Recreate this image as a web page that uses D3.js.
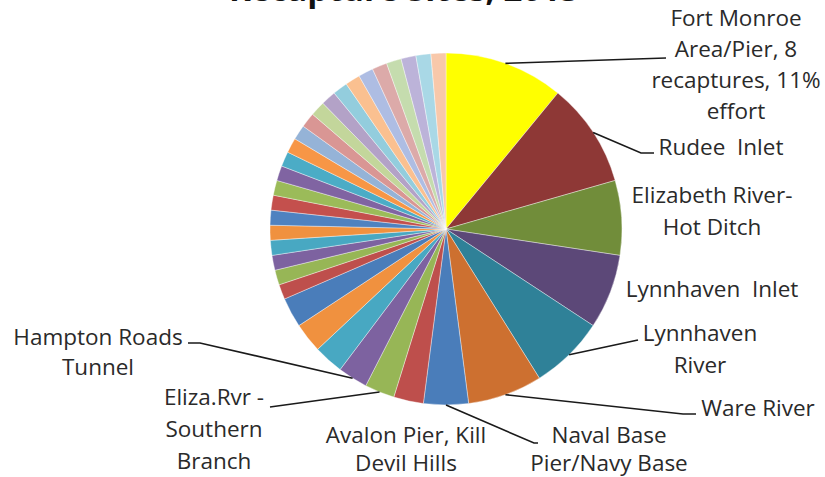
<!DOCTYPE html>
<html><head><meta charset="utf-8">
<script src="https://cdn.jsdelivr.net/npm/d3@7"></script>
<style>body{margin:0;background:#fff}svg{display:block}</style>
</head><body>
<svg id="c" width="825" height="477"></svg>
<script>
// ---- data ----
const title = "Recapture Sites, 2013";
const sites = [
  "Fort Monroe Area/Pier, 8 recaptures, 11% effort", "Rudee  Inlet", "Elizabeth River-Hot Ditch",
  "Lynnhaven  Inlet", "Lynnhaven River", "Ware River", "Naval Base Pier/Navy Base",
  "Avalon Pier, Kill Devil Hills", "Eliza.Rvr - Southern Branch", "Hampton Roads Tunnel",
  "Site 11","Site 12","Site 13","Site 14","Site 15","Site 16","Site 17","Site 18","Site 19",
  "Site 20","Site 21","Site 22","Site 23","Site 24","Site 25","Site 26","Site 27","Site 28",
  "Site 29","Site 30","Site 31","Site 32"
];
const recaptures = [8,7,5,5,5,5,3, 2,2,2,2,2,2, 1,1,1,1,1,1,1,1,1,1,1,1,1,1,1,1,1,1,1,1,1,1,1];
const sliceColors = [
  "#ffff00","#8e3836","#718d3a","#5c4878","#2f8198","#cd7030","#4a7dba",
  "#be4f4c","#97b656","#7d62a0","#48a8c2","#f0913f","#4a7dba",
  "#be4f4c","#97b656","#7d62a0","#48a8c2","#f0913f","#4f82c0",
  "#c4504d","#9bbb59","#8064a2","#4bacc6","#f79646",
  "#95b3d7","#d99694","#c3d69b","#b3a2c7","#93cddd","#fac090",
  "#aebde3","#dcaaa9","#c5dcae","#bcb3d9","#a9d8e6","#f8c8aa","#c8d6ee","#e8c8cc"
];
const labelLines = {
  0: ["Fort Monroe","Area/Pier, 8","recaptures, 11%","effort"],
  1: ["Rudee  Inlet"],
  2: ["Elizabeth River-","Hot Ditch"],
  3: ["Lynnhaven  Inlet"],
  4: ["Lynnhaven","River"],
  5: ["Ware River"],
  6: ["Naval Base","Pier/Navy Base"],
  7: ["Avalon Pier, Kill","Devil Hills"],
  8: ["Eliza.Rvr -","Southern","Branch"],
  9: ["Hampton Roads","Tunnel"]
};
// ---- layout (positions, not data) ----
const cx = 446, cy = 229, R = 176;
const labelPos = {           // x = centre of text block, y = first baseline, h = line step
  0:{x:736,y:26,h:31, leader:[[666,58]]},
  1:{x:721,y:155, leader:[[641,153],[654,153]]},
  2:{x:712,y:203,h:32},
  3:{x:712,y:297},
  4:{x:700,y:341,h:32, leader:[[638,340]]},
  5:{x:758,y:416, leader:[[683,414],[696,414]]},
  6:{x:609,y:443,h:28, leader:[[534,443],[538,443]]},
  7:{x:406,y:443,h:28},
  8:{x:214,y:405,h:32, leader:[[270,407]]},
  9:{x:98,y:345,h:30, leader:[[200,343],[188,343]]}
};
const fontFam = "'Open Sans', Lato, sans-serif";

const n = Math.min(recaptures.length, sliceColors.length);
const vals = recaptures.slice(0, n);
const svg = d3.select("#c");

svg.append("text").attr("x",404).attr("y",1).attr("text-anchor","middle")
  .attr("font-family",fontFam).attr("font-weight","bold")
  .attr("font-size",33).attr("fill","#111").text(title);

const pie = d3.pie().sort(null).value(d=>d)(vals);
const arc = d3.arc().innerRadius(0).outerRadius(R);
const g = svg.append("g").attr("transform",`translate(${cx},${cy})`);
g.selectAll("path").data(pie).join("path")
  .attr("d",arc).attr("fill",(d,i)=>sliceColors[i])
  .attr("stroke","#ffffff").attr("stroke-opacity",0.55).attr("stroke-width",0.7);

// leaders
Object.keys(labelPos).forEach(k=>{
  const p = labelPos[k];
  if(!p.leader) return;
  const a = pie[+k];
  const m = (a.startAngle+a.endAngle)/2;
  const start = [cx + R*Math.sin(m), cy - R*Math.cos(m)];
  svg.append("path").attr("d", d3.line()([start, ...p.leader]))
    .attr("fill","none").attr("stroke","#1a1a1a").attr("stroke-width",1.6);
});
// labels
Object.keys(labelLines).forEach(k=>{
  const p = labelPos[k];
  const t = svg.append("text").attr("text-anchor","middle")
    .attr("font-family",fontFam).attr("font-size",22.5)
    .attr("fill","#2a2a2a").style("white-space","pre");
  labelLines[k].forEach((ln,j)=>{
    t.append("tspan").attr("x",p.x).attr("y",p.y + j*(p.h||31)).text(ln);
  });
});
</script>
</body></html>
